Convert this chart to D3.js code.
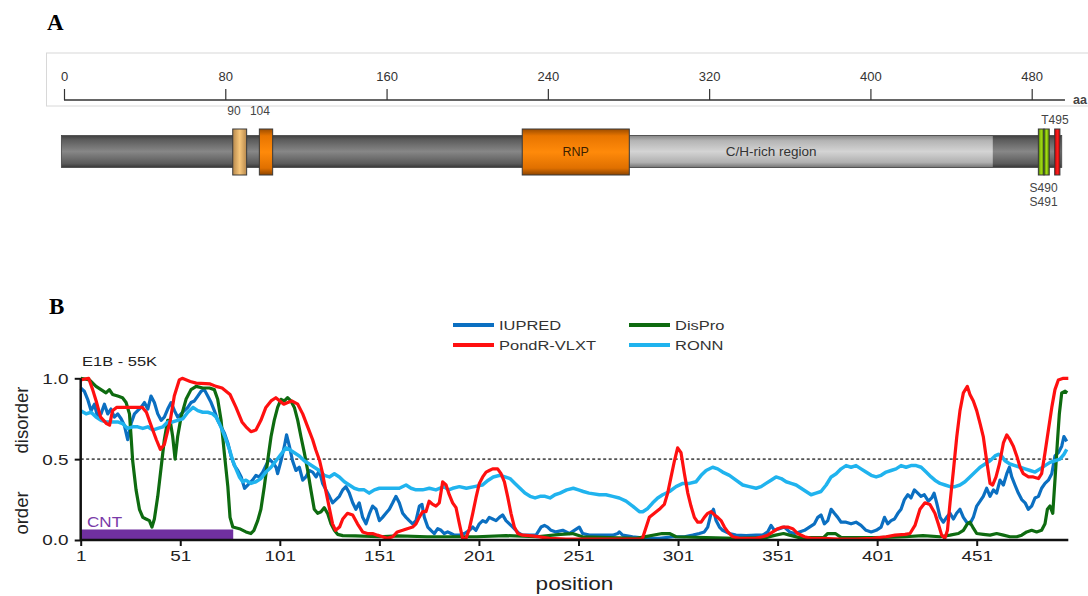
<!DOCTYPE html>
<html>
<head>
<meta charset="utf-8">
<script src="https://cdn.jsdelivr.net/npm/d3@7"></script>
<style>
  body { margin: 0; background: #fff; }
  svg { display: block; }
</style>
</head>
<body>
<svg id="figure" width="1088" height="596"></svg>
<script>
// ---------- panel A data (amino-acid positions) ----------
const mapTicks = [0, 80, 160, 240, 320, 400, 480];
const proteinStart = -1.3;
const proteinEnd = 494.9;
const axisEnd = 496.5;
const chRegion = [280.4, 460.7];
const domainNames = ["m90", "m104", "RNP", "S490", "S491", "T495"];
const domainStarts = [83.7, 96.9, 227.3, 483.3, 486.1, 491.4];
const domainEnds = [90.6, 103.5, 280.4, 486.1, 488.7, 494.0];
const siteLabelsTop = [["90", 84.3], ["104", 97.2], ["T495", 491.5]];
const siteLabelsBottom = [["S490", 485.9], ["S491", 485.9]];

// ---------- panel B data (position, score) ----------
const xTicks = [1, 51, 101, 151, 201, 251, 301, 351, 401, 451];
const yTicks = [0, 0.5, 1];
const threshold = 0.5;
const cntRegion = [1, 77.6];
const cntHeight = 0.065;

const iupred = [[1,0.94],[2.8,0.92],[4.5,0.87],[6.2,0.80],[7.9,0.84],[9.5,0.76],[11.2,0.78],[12.9,0.84],[14.6,0.78],[16.2,0.81],[17.9,0.76],[19.6,0.78],[21.3,0.75],[22.9,0.71],[24.6,0.62],[26.3,0.72],[28,0.78],[29.6,0.80],[31.3,0.82],[33,0.85],[34.7,0.81],[36.3,0.89],[38,0.85],[39.7,0.78],[41.4,0.74],[43,0.76],[44.7,0.81],[46.4,0.85],[48.1,0.80],[49.7,0.76],[51.4,0.78],[53.1,0.80],[54.8,0.82],[56.4,0.85],[58.1,0.86],[59.8,0.89],[61.5,0.92],[63.1,0.93],[64.8,0.89],[66.5,0.85],[68.1,0.80],[69.8,0.74],[71.5,0.70],[73.2,0.66],[74.9,0.60],[76.5,0.52],[78.2,0.46],[79.9,0.43],[81.6,0.39],[83.3,0.32],[85.7,0.35],[87.3,0.37],[89,0.40],[90.7,0.39],[92.4,0.42],[94,0.46],[95.7,0.50],[97.4,0.48],[99.1,0.45],[99.9,0.41],[101.6,0.49],[103.3,0.58],[104.4,0.65],[105.8,0.58],[107.4,0.49],[109.1,0.43],[110.8,0.45],[112.5,0.37],[114.1,0.39],[115.8,0.43],[117.5,0.42],[119.2,0.39],[120.8,0.43],[122.5,0.35],[124.2,0.31],[125.9,0.27],[127.5,0.23],[129.2,0.25],[130.9,0.27],[132.6,0.31],[134.2,0.33],[135.9,0.29],[137.6,0.23],[139.2,0.19],[140.9,0.23],[142.6,0.14],[144.3,0.10],[145.9,0.16],[147.6,0.21],[149.3,0.19],[151,0.12],[152.6,0.14],[154.3,0.165],[156,0.19],[157.7,0.23],[159.3,0.27],[161,0.23],[162.7,0.165],[164.4,0.14],[166,0.12],[167.7,0.10],[169.4,0.12],[171.1,0.21],[172.4,0.22],[173.6,0.14],[175.3,0.08],[176.9,0.06],[178.6,0.04],[180.3,0.07],[182,0.06],[183.6,0.04],[185.3,0.05],[187,0.04],[188.7,0.03],[191.2,0.03],[193.7,0.04],[196.2,0.06],[197.9,0.08],[199.5,0.06],[201.2,0.10],[202.9,0.12],[204.6,0.11],[206.2,0.14],[207.9,0.13],[209.6,0.12],[211.3,0.14],[212.9,0.155],[214.6,0.12],[216.3,0.10],[218,0.08],[219.6,0.06],[221.3,0.04],[223,0.03],[226.3,0.03],[229.7,0.03],[232.2,0.08],[233.9,0.09],[235.5,0.08],[237.2,0.06],[239.7,0.05],[243.1,0.06],[246.4,0.04],[248.9,0.06],[251.4,0.08],[253.1,0.04],[256.5,0.03],[261.5,0.03],[268.2,0.03],[270.7,0.04],[271.5,0.05],[273.2,0.03],[278.2,0.02],[285,0.01],[291.6,0.01],[298.3,0.02],[304.2,0.02],[308.4,0.03],[311.7,0.04],[314.2,0.05],[315.9,0.08],[317.6,0.165],[318.8,0.19],[320.1,0.12],[321.8,0.08],[323.4,0.06],[326.8,0.04],[330.1,0.03],[335.2,0.027],[340.2,0.03],[343.5,0.03],[346,0.05],[347.7,0.09],[349.4,0.06],[351.9,0.07],[354.4,0.08],[357,0.05],[359.5,0.04],[362,0.05],[364.5,0.06],[367,0.08],[369.5,0.10],[371.2,0.14],[372.8,0.155],[374.5,0.10],[376.2,0.12],[377.9,0.19],[379.5,0.165],[381.2,0.14],[382.9,0.11],[385.4,0.11],[387.9,0.10],[390.4,0.11],[392.9,0.09],[395.4,0.06],[398,0.05],[400.5,0.06],[403,0.08],[404.7,0.14],[406.3,0.10],[408,0.12],[409.7,0.13],[411.4,0.165],[413,0.19],[414.7,0.25],[416.4,0.28],[418,0.26],[419.7,0.31],[421.4,0.29],[423,0.27],[424.7,0.28],[426.7,0.24],[428.4,0.26],[429.6,0.29],[430.9,0.23],[432.6,0.14],[434.2,0.11],[435.9,0.14],[437.6,0.165],[439.3,0.13],[440.9,0.165],[442.6,0.19],[444.3,0.14],[446,0.11],[447.6,0.10],[449.3,0.14],[451,0.21],[452.7,0.24],[454.3,0.27],[456,0.32],[457.7,0.27],[459.4,0.31],[461,0.29],[462.7,0.37],[464.4,0.34],[466.1,0.41],[467.4,0.45],[468.6,0.39],[470.2,0.34],[471.9,0.29],[473.6,0.25],[475.3,0.23],[476.9,0.19],[478.6,0.21],[480.3,0.26],[482,0.27],[483.6,0.32],[485.3,0.35],[487,0.37],[488.7,0.41],[490.3,0.52],[492,0.54],[493.7,0.58],[494.8,0.64],[496.2,0.61]];

const pondr = [[1,0.99],[5,1.0],[7,0.93],[9,0.85],[11,0.76],[14,0.72],[15.5,0.71],[17,0.80],[19,0.82],[24,0.82],[32,0.82],[34,0.79],[36,0.72],[39,0.62],[41,0.56],[43,0.59],[46,0.74],[48,0.89],[50.5,0.99],[52,1.0],[56,0.98],[59,0.97],[66,0.965],[69,0.95],[72,0.94],[76,0.90],[79,0.82],[82,0.73],[84,0.70],[86.5,0.67],[89,0.68],[91.5,0.74],[94,0.82],[96.6,0.86],[99,0.88],[101,0.86],[103,0.84],[105,0.85],[107,0.86],[110,0.84],[112.5,0.78],[115,0.70],[117.5,0.62],[119,0.56],[121,0.49],[122.5,0.41],[124,0.31],[126,0.19],[127.5,0.10],[129,0.06],[131,0.08],[132.6,0.13],[135,0.165],[137.6,0.155],[140,0.10],[142.6,0.05],[145,0.04],[147.6,0.04],[150,0.03],[152.6,0.02],[155,0.01],[157.7,0.02],[160,0.05],[162.7,0.06],[165,0.07],[167.7,0.08],[169.4,0.10],[171,0.14],[172.7,0.175],[174.4,0.175],[176,0.24],[177.8,0.22],[179.4,0.21],[181.1,0.23],[182.8,0.36],[184.5,0.34],[186.1,0.28],[187.8,0.23],[189.5,0.20],[191.2,0.10],[192.8,0.01],[194.5,0.01],[196.2,0.07],[197.9,0.165],[199.5,0.26],[201.2,0.35],[202.9,0.39],[204.6,0.42],[206.2,0.43],[207.9,0.44],[210.4,0.44],[212.1,0.41],[213.8,0.36],[215.4,0.27],[217.1,0.165],[218.8,0.08],[220.5,0.04],[223,0.03],[228,0.025],[236.4,0.01],[244.7,0.006],[283,0.005],[285,0.08],[286.6,0.14],[289.1,0.165],[291.6,0.19],[294.1,0.22],[295.8,0.29],[297.5,0.39],[299.2,0.49],[300.8,0.57],[302.5,0.54],[304.2,0.41],[305.9,0.29],[307.5,0.21],[309.2,0.14],[310.9,0.11],[312.6,0.11],[314.2,0.14],[315.9,0.165],[317.6,0.175],[319.3,0.155],[320.9,0.14],[322.6,0.12],[324.3,0.08],[326,0.05],[328.5,0.02],[331.8,0.01],[340,0.01],[343.5,0.02],[346,0.03],[348.6,0.05],[351.1,0.07],[353.6,0.08],[356.1,0.08],[358.6,0.07],[361.1,0.04],[364.5,0.02],[367.8,0.01],[373.7,0.01],[382,0.006],[390.4,0.006],[398.8,0.01],[405.5,0.02],[410,0.03],[415,0.035],[417.5,0.04],[420,0.09],[422.5,0.19],[425,0.23],[427.5,0.22],[430,0.165],[431.7,0.10],[433.4,0.03],[435,0.01],[436.3,0.06],[437.6,0.23],[439.3,0.43],[441,0.64],[442.6,0.80],[444.3,0.91],[446.3,0.95],[447.6,0.90],[449.3,0.86],[451,0.80],[452.7,0.72],[454.3,0.64],[456,0.49],[457.7,0.35],[459,0.34],[460.7,0.39],[462.4,0.47],[464.4,0.60],[466.1,0.65],[467.7,0.62],[469.4,0.58],[471.1,0.52],[472.8,0.45],[474.4,0.41],[477,0.39],[479.4,0.39],[482,0.38],[483.6,0.41],[485.3,0.54],[487,0.68],[488.7,0.82],[490.3,0.93],[492,0.99],[494.5,1.0],[497,1.0]];

const dispro = [[1,1.0],[5.4,0.99],[8.7,0.95],[11.2,0.93],[13.7,0.91],[15.4,0.93],[17,0.90],[19.6,0.89],[22,0.88],[23.8,0.85],[25.5,0.78],[26.3,0.64],[27.1,0.49],[28.8,0.31],[30.5,0.19],[32.2,0.14],[33.8,0.13],[35.5,0.12],[36.8,0.08],[38,0.13],[39.7,0.27],[41.4,0.45],[43,0.62],[44.7,0.74],[45.9,0.74],[47.2,0.64],[48.4,0.50],[49.7,0.64],[51.4,0.76],[53.9,0.87],[56.4,0.93],[59,0.95],[62.3,0.94],[65.7,0.94],[68.1,0.93],[69.8,0.87],[71.5,0.74],[73.2,0.53],[74.9,0.33],[76,0.14],[77.4,0.08],[80.7,0.07],[84,0.05],[86.5,0.04],[88,0.06],[89.9,0.12],[91.5,0.19],[93.2,0.33],[94.9,0.49],[96.6,0.64],[98.2,0.74],[99.9,0.82],[101.6,0.87],[103.3,0.86],[104.9,0.88],[106.6,0.86],[108.3,0.82],[110,0.74],[111.6,0.64],[113.3,0.54],[115,0.43],[116.6,0.31],[118.3,0.19],[120,0.165],[121.7,0.175],[123.3,0.20],[125,0.165],[126.7,0.10],[128.4,0.06],[130,0.035],[132.6,0.027],[139,0.025],[151,0.02],[160,0.025],[175,0.02],[200,0.02],[214.6,0.027],[230,0.02],[242,0.035],[248,0.04],[253,0.02],[280,0.01],[293,0.04],[296.7,0.04],[300,0.02],[330,0.01],[345,0.015],[350,0.03],[354,0.04],[357,0.03],[362,0.015],[374,0.015],[376.2,0.04],[380,0.04],[383,0.015],[400,0.015],[415,0.02],[424,0.027],[432.6,0.02],[437.6,0.03],[441.8,0.04],[444.3,0.06],[446.3,0.10],[447.6,0.11],[449,0.08],[451,0.04],[454.3,0.035],[457.7,0.03],[461,0.04],[464.4,0.03],[467.7,0.02],[471.1,0.02],[473.6,0.03],[476.1,0.05],[478.6,0.06],[481.1,0.05],[483.6,0.06],[485.3,0.10],[486.5,0.19],[487.8,0.21],[489.2,0.165],[490.3,0.37],[491.5,0.60],[492.5,0.78],[493.7,0.91],[495.4,0.92],[496.5,0.91]];

const ronn = [[1,0.80],[3.7,0.78],[6.2,0.79],[8.7,0.76],[11.2,0.74],[13.7,0.73],[17,0.73],[19.6,0.73],[22,0.72],[24.6,0.69],[27.1,0.70],[29.6,0.70],[32.2,0.69],[34.7,0.70],[37.2,0.68],[39.7,0.69],[42.3,0.70],[44.7,0.73],[47.2,0.73],[49.7,0.74],[52.3,0.75],[54.8,0.79],[57.4,0.82],[59.8,0.80],[62.3,0.79],[64.8,0.79],[67.3,0.78],[69,0.76],[70.7,0.72],[72.4,0.67],[74,0.62],[75.7,0.56],[77.4,0.49],[79,0.44],[80.7,0.39],[82.4,0.36],[84,0.37],[86.5,0.35],[89,0.36],[91.5,0.38],[94,0.42],[96.6,0.45],[99.1,0.49],[101.6,0.53],[104.1,0.57],[105.8,0.56],[108.3,0.54],[110.8,0.52],[113.3,0.49],[115.8,0.47],[118.3,0.45],[120.8,0.43],[123.3,0.40],[125.9,0.39],[128.4,0.41],[130.9,0.39],[133.4,0.36],[135.9,0.34],[138.4,0.32],[140.9,0.31],[143.4,0.31],[145.9,0.29],[148.5,0.31],[151,0.32],[154.3,0.32],[157.7,0.32],[161,0.32],[164.4,0.34],[166.9,0.32],[169.4,0.31],[172.7,0.31],[176.1,0.32],[179.4,0.31],[183.3,0.33],[185.8,0.31],[187.8,0.32],[191.2,0.33],[194.7,0.32],[198.7,0.33],[202.7,0.34],[205.7,0.37],[208.2,0.39],[211.6,0.40],[214.1,0.39],[216.6,0.38],[219.1,0.35],[221.6,0.32],[224.1,0.29],[226.7,0.27],[229.2,0.26],[231.7,0.27],[234.2,0.27],[236.7,0.26],[239.2,0.28],[241.7,0.29],[245.1,0.31],[248.4,0.32],[251,0.31],[253.4,0.30],[256.3,0.29],[261.5,0.28],[264.8,0.28],[268.2,0.27],[271.5,0.26],[274.9,0.24],[278.2,0.21],[281.6,0.175],[283.3,0.175],[285.8,0.195],[288.3,0.23],[290.8,0.26],[293.3,0.28],[296.7,0.30],[300,0.33],[303.4,0.35],[306.7,0.35],[310,0.36],[312.6,0.40],[315.1,0.43],[318.4,0.45],[320.9,0.44],[323.4,0.42],[326.8,0.40],[330.1,0.37],[333.5,0.34],[336.8,0.33],[340.2,0.32],[342.7,0.33],[345.2,0.35],[347.7,0.37],[350.2,0.39],[352.8,0.38],[355.3,0.36],[357.8,0.35],[360.3,0.34],[362.8,0.32],[365.3,0.30],[367.8,0.28],[370.3,0.29],[372.8,0.30],[375.4,0.34],[377.9,0.39],[380.4,0.41],[382.9,0.44],[385.4,0.46],[387.9,0.45],[390.4,0.46],[392.9,0.44],[395.4,0.42],[398,0.40],[400.5,0.39],[403,0.40],[405.5,0.42],[408,0.43],[410.5,0.44],[413,0.46],[415.5,0.45],[418,0.46],[420.6,0.46],[423.1,0.45],[425.6,0.42],[428.1,0.39],[430,0.37],[432.6,0.35],[435.1,0.34],[437.6,0.33],[440.1,0.33],[442.6,0.34],[445.1,0.36],[447.6,0.39],[450.2,0.42],[452.7,0.45],[455.2,0.47],[457.7,0.49],[460.2,0.52],[461.9,0.53],[463.5,0.52],[465.2,0.49],[467.7,0.47],[470.2,0.46],[472.8,0.45],[475.3,0.44],[477.8,0.43],[480.3,0.42],[482.8,0.44],[485.3,0.46],[487.8,0.48],[490.3,0.49],[492.8,0.50],[494.8,0.53],[496.2,0.56]];

const seriesData = { "IUPRED": iupred, "DisPro": dispro, "PondR-VLXT": pondr, "RONN": ronn };
const drawOrder = ["IUPRED", "DisPro", "RONN", "PondR-VLXT"];

// ---------- styles ----------
const seriesColor = { "IUPRED": "#0b6fc1", "DisPro": "#0e6b10", "PondR-VLXT": "#ff1010", "RONN": "#20b3ee" };
const domainFill = { m90: "url(#gTan)", m104: "url(#gOrange)", RNP: "url(#gOrange)", S490: "url(#gGreen)", S491: "url(#gGreen)", T495: "url(#gRed)" };
const stretch = 1.22;
const sansA = "Liberation Sans, Arial, sans-serif";

const svg = d3.select("#figure");
svg.append("rect").attr("width", 1088).attr("height", 596).attr("fill", "#fff");

const defs = svg.append("defs");
function vGrad(id, stops) {
    const g = defs.append("linearGradient").attr("id", id)
        .attr("x1", 0).attr("y1", 0).attr("x2", 0).attr("y2", 1);
    stops.forEach(([o, c]) => g.append("stop").attr("offset", o).attr("stop-color", c));
}
function hGrad(id, stops) {
    const g = defs.append("linearGradient").attr("id", id)
        .attr("x1", 0).attr("y1", 0).attr("x2", 1).attr("y2", 0);
    stops.forEach(([o, c]) => g.append("stop").attr("offset", o).attr("stop-color", c));
}
vGrad("gBar", [[0, "#3e3e3e"], [0.12, "#5a5a5a"], [0.5, "#878787"], [0.88, "#5a5a5a"], [1, "#363636"]]);
vGrad("gLight", [[0, "#8a8a8a"], [0.15, "#b4b4b4"], [0.5, "#d4d4d4"], [0.85, "#b0b0b0"], [1, "#7a7a7a"]]);
vGrad("gOrange", [[0, "#9c4c00"], [0.15, "#e87500"], [0.5, "#ff8a0a"], [0.85, "#e07000"], [1, "#8c4400"]]);
hGrad("gTan", [[0, "#b7884c"], [0.5, "#f7c67a"], [1, "#b7884c"]]);
hGrad("gGreen", [[0, "#4a7a00"], [0.5, "#a6e014"], [1, "#4a7a00"]]);
hGrad("gRed", [[0, "#c00000"], [0.5, "#ff2020"], [1, "#c00000"]]);

// ---------- panel A ----------
svg.append("text").attr("x", 47).attr("y", 30)
    .attr("font-family", "Liberation Serif, Times New Roman, serif")
    .attr("font-weight", "bold").attr("font-size", 23).text("A");

const xA = d3.scaleLinear().domain([0, 480]).range([64, 1031.7]);
const panelA = svg.append("g");

panelA.append("rect").attr("x", 46.5).attr("y", 53).attr("width", 1060).attr("height", 53)
    .attr("fill", "none").attr("stroke", "#d8d8d8").attr("stroke-width", 1);

const axisA = panelA.append("g").attr("transform", "translate(0,100)")
    .call(d3.axisTop(xA).tickValues(mapTicks).tickSize(11).tickPadding(8));
axisA.select(".domain").remove();
axisA.selectAll(".tick line").attr("stroke", "#333").attr("stroke-width", 1.2);
axisA.selectAll(".tick text").attr("font-family", sansA).attr("font-size", 13).attr("fill", "#333");
panelA.append("line").attr("x1", xA(0)).attr("x2", xA(axisEnd)).attr("y1", 100).attr("y2", 100)
    .attr("stroke", "#333").attr("stroke-width", 1.5);
panelA.append("text").attr("x", xA(axisEnd) + 8).attr("y", 104)
    .attr("font-family", sansA).attr("font-size", 12.5).attr("font-weight", "bold")
    .attr("fill", "#444").text("aa");

// protein bar
panelA.append("rect").attr("x", xA(proteinStart)).attr("y", 135.5)
    .attr("width", xA(proteinEnd) - xA(proteinStart)).attr("height", 32)
    .attr("fill", "url(#gBar)").attr("stroke", "#444").attr("stroke-width", 0.8);
panelA.append("rect").attr("x", xA(chRegion[0])).attr("y", 136)
    .attr("width", xA(chRegion[1]) - xA(chRegion[0])).attr("height", 31)
    .attr("fill", "url(#gLight)");
panelA.append("text").attr("x", (xA(chRegion[0]) + xA(chRegion[1])) / 2 - 40).attr("y", 156)
    .attr("text-anchor", "middle").attr("font-family", sansA).attr("font-size", 13.5)
    .attr("fill", "#333").text("C/H-rich region");

panelA.selectAll(".dom").data(domainNames).join("rect")
    .attr("class", "dom")
    .attr("x", (d, i) => xA(domainStarts[i]))
    .attr("y", 129)
    .attr("width", (d, i) => xA(domainEnds[i]) - xA(domainStarts[i]))
    .attr("height", 46)
    .attr("fill", d => domainFill[d])
    .attr("stroke", "#3a3a3a").attr("stroke-width", 1);

const rnpIdx = domainNames.indexOf("RNP");
panelA.append("text")
    .attr("x", (xA(domainStarts[rnpIdx]) + xA(domainEnds[rnpIdx])) / 2).attr("y", 156)
    .attr("text-anchor", "middle").attr("font-family", sansA).attr("font-size", 12.5)
    .attr("fill", "#3a2000").text("RNP");

panelA.selectAll(".siteTop").data(siteLabelsTop).join("text")
    .attr("class", "siteTop")
    .attr("x", d => xA(d[1])).attr("y", d => d[0] === "T495" ? 124 : 115)
    .attr("text-anchor", "middle").attr("font-family", sansA).attr("font-size", 12)
    .attr("fill", "#444").text(d => d[0]);
panelA.selectAll(".siteBot").data(siteLabelsBottom).join("text")
    .attr("class", "siteBot")
    .attr("x", d => xA(d[1])).attr("y", (d, i) => 192 + i * 13.5)
    .attr("text-anchor", "middle").attr("font-family", sansA).attr("font-size", 12)
    .attr("fill", "#444").text(d => d[0]);

// ---------- panel B ----------
svg.append("text").attr("x", 49).attr("y", 314)
    .attr("font-family", "Liberation Serif, Times New Roman, serif")
    .attr("font-weight", "bold").attr("font-size", 23).text("B");

const xB = d3.scaleLinear().domain([1, 497]).range([80.7, 1068.3]);
const yB = d3.scaleLinear().domain([0, 1]).range([540, 378.3]);
const panelB = svg.append("g");

function stretchedText(parent, x, y, str, size, anchor, color) {
    return parent.append("text")
        .attr("transform", `translate(${x},${y}) scale(${stretch},1)`)
        .attr("text-anchor", anchor || "start")
        .attr("font-family", sansA).attr("font-size", size)
        .attr("fill", color || "#222").text(str);
}

// threshold
panelB.append("line").attr("x1", xB(1)).attr("x2", xB(497))
    .attr("y1", yB(threshold)).attr("y2", yB(threshold))
    .attr("stroke", "#555").attr("stroke-width", 1.6).attr("stroke-dasharray", "3,2.5");

// CNT region
panelB.append("rect").attr("x", xB(cntRegion[0])).attr("y", yB(cntHeight))
    .attr("width", xB(cntRegion[1]) - xB(cntRegion[0])).attr("height", yB(0) - yB(cntHeight))
    .attr("fill", "#7030a0");
stretchedText(panelB, 87, 527, "CNT", 14, "start", "#7a3aa8");

// series
const line = d3.line().x(d => xB(d[0])).y(d => yB(d[1]));
panelB.selectAll(".series").data(drawOrder).join("path")
    .attr("class", "series")
    .attr("d", d => line(seriesData[d]))
    .attr("fill", "none")
    .attr("stroke", d => seriesColor[d])
    .attr("stroke-width", d => d === "RONN" ? 3.5 : 3.2)
    .attr("stroke-linejoin", "round");

// axes
const xAxisB = panelB.append("g").attr("transform", `translate(0,${yB(0)})`)
    .call(d3.axisBottom(xB).tickValues(xTicks).tickSize(6).tickPadding(4).tickFormat(d3.format("d")));
xAxisB.select(".domain").remove();
xAxisB.selectAll(".tick line").attr("stroke", "#111").attr("stroke-width", 2);
xAxisB.selectAll(".tick text").attr("font-family", sansA).attr("font-size", 15.5)
    .attr("fill", "#222").attr("transform", `scale(${stretch},1)`);

const yAxisB = panelB.append("g").attr("transform", `translate(${xB(1)},0)`)
    .call(d3.axisLeft(yB).tickValues(yTicks).tickSize(6).tickPadding(4).tickFormat(d3.format(".1f")));
yAxisB.select(".domain").remove();
yAxisB.selectAll(".tick line").attr("stroke", "#111").attr("stroke-width", 2);
yAxisB.selectAll(".tick text").attr("font-family", sansA).attr("font-size", 15.5)
    .attr("fill", "#222").attr("transform", `scale(${stretch},1)`);

panelB.append("line").attr("x1", xB(1)).attr("x2", xB(497)).attr("y1", yB(0)).attr("y2", yB(0))
    .attr("stroke", "#111").attr("stroke-width", 2.5);
panelB.append("line").attr("x1", xB(1)).attr("x2", xB(1)).attr("y1", yB(0) + 1).attr("y2", yB(1))
    .attr("stroke", "#111").attr("stroke-width", 2.5);

// axis titles
stretchedText(panelB, (xB(1) + xB(497)) / 2, 590, "position", 18.5, "middle");
panelB.append("text").attr("transform", `translate(28,${420}) rotate(-90)`)
    .attr("text-anchor", "middle").attr("font-family", sansA).attr("font-size", 18.5)
    .attr("fill", "#222").text("disorder");
panelB.append("text").attr("transform", `translate(28,${513}) rotate(-90)`)
    .attr("text-anchor", "middle").attr("font-family", sansA).attr("font-size", 18.5)
    .attr("fill", "#222").text("order");
stretchedText(panelB, 82, 366, "E1B - 55K", 13.5, "start", "#222");

// legend
const legendItems = [["IUPRED", 453, 325], ["DisPro", 629, 325], ["PondR-VLXT", 453, 345], ["RONN", 629, 345]];
legendItems.forEach(([name, lx, ly]) => {
    panelB.append("line").attr("x1", lx).attr("x2", lx + 41).attr("y1", ly).attr("y2", ly)
        .attr("stroke", seriesColor[name]).attr("stroke-width", 4);
    stretchedText(panelB, lx + 46, ly + 5, name, 13.5, "start", "#333");
});
</script>
</body>
</html>
